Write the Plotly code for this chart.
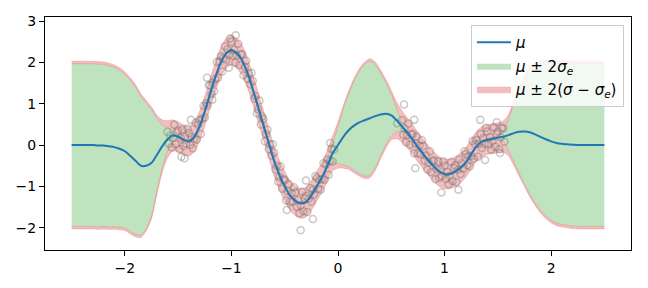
import numpy as np
import plotly.graph_objects as go

# grid of x positions (step 0.05 from -2.5 to 2.5)
x_grid = np.round(np.linspace(-2.5, 2.5, 101), 3)

# predictive mean
mu = [0.00, 0.00, 0.00, 0.00, 0.00, -0.01, -0.01, -0.03, -0.05, -0.09,
      -0.15, -0.26, -0.38, -0.50, -0.50, -0.43, -0.24, -0.03, 0.14, 0.23,
      0.20, 0.13, 0.09, 0.20, 0.45, 0.82, 1.25, 1.65, 2.00, 2.22,
      2.30, 2.22, 2.05, 1.75, 1.35, 0.92, 0.48, 0.05, -0.38, -0.72,
      -1.00, -1.22, -1.35, -1.41, -1.38, -1.22, -1.00, -0.78, -0.50, -0.20,
      0.00, 0.20, 0.36, 0.47, 0.55, 0.60, 0.65, 0.70, 0.74, 0.76,
      0.72, 0.60, 0.45, 0.30, 0.13, -0.05, -0.22, -0.38, -0.52, -0.64,
      -0.70, -0.70, -0.64, -0.55, -0.42, -0.22, -0.03, 0.08, 0.13, 0.15,
      0.18, 0.20, 0.24, 0.29, 0.32, 0.33, 0.31, 0.26, 0.20, 0.14,
      0.09, 0.05, 0.03, 0.02, 0.01, 0.00, 0.00, 0.00, 0.00, 0.00,
      0.00]

# 2*sigma_e (epistemic half-width)
two_sigma_e = [1.97, 1.97, 1.97, 1.97, 1.97, 1.97, 1.96, 1.95, 1.93, 1.90,
               1.86, 1.83, 1.78, 1.68, 1.52, 1.28, 0.88, 0.52, 0.28, 0.12,
               0.05, 0.03, 0.03, 0.03, 0.03, 0.03, 0.03, 0.03, 0.03, 0.03,
               0.03, 0.03, 0.03, 0.03, 0.03, 0.03, 0.03, 0.03, 0.03, 0.03,
               0.03, 0.03, 0.03, 0.03, 0.03, 0.03, 0.03, 0.03, 0.08, 0.22,
               0.45, 0.68, 0.88, 1.08, 1.24, 1.35, 1.38, 1.25, 1.00, 0.75,
               0.50, 0.28, 0.12, 0.05, 0.03, 0.03, 0.03, 0.03, 0.03, 0.03,
               0.03, 0.03, 0.03, 0.03, 0.03, 0.03, 0.03, 0.03, 0.03, 0.03,
               0.03, 0.10, 0.37, 0.70, 1.00, 1.27, 1.50, 1.66, 1.78, 1.86,
               1.91, 1.94, 1.95, 1.96, 1.97, 1.97, 1.97, 1.97, 1.97, 1.97,
               1.97]

# 2*sigma (total half-width)
two_sigma = [2.03, 2.03, 2.03, 2.03, 2.03, 2.03, 2.02, 2.01, 1.99, 1.96,
             1.92, 1.89, 1.84, 1.74, 1.58, 1.35, 0.96, 0.64, 0.45, 0.38,
             0.36, 0.36, 0.36, 0.36, 0.36, 0.36, 0.36, 0.36, 0.36, 0.36,
             0.36, 0.36, 0.36, 0.36, 0.36, 0.36, 0.36, 0.36, 0.36, 0.36,
             0.36, 0.36, 0.36, 0.36, 0.36, 0.36, 0.36, 0.36, 0.38, 0.42,
             0.56, 0.76, 0.95, 1.14, 1.30, 1.41, 1.44, 1.31, 1.07, 0.83,
             0.60, 0.44, 0.38, 0.36, 0.36, 0.36, 0.36, 0.36, 0.36, 0.36,
             0.36, 0.36, 0.36, 0.36, 0.36, 0.36, 0.36, 0.36, 0.36, 0.36,
             0.36, 0.38, 0.50, 0.78, 1.07, 1.33, 1.56, 1.72, 1.84, 1.92,
             1.97, 2.00, 2.01, 2.02, 2.03, 2.03, 2.03, 2.03, 2.03, 2.03,
             2.03]

px = [-1.600, -1.587, -1.575, -1.562, -1.550, -1.537, -1.525, -1.512,
      -1.500, -1.487, -1.475, -1.462, -1.450, -1.437, -1.425, -1.412,
      -1.400, -1.387, -1.375, -1.362, -1.350, -1.337, -1.325, -1.312,
      -1.300, -1.287, -1.275, -1.262, -1.250, -1.237, -1.225, -1.212,
      -1.200, -1.187, -1.175, -1.162, -1.150, -1.137, -1.125, -1.112,
      -1.100, -1.087, -1.075, -1.062, -1.050, -1.037, -1.025, -1.012,
      -1.000, -0.987, -0.975, -0.962, -0.950, -0.937, -0.925, -0.912,
      -0.900, -0.887, -0.875, -0.862, -0.850, -0.837, -0.825, -0.812,
      -0.800, -0.787, -0.775, -0.762, -0.750, -0.737, -0.725, -0.712,
      -0.700, -0.687, -0.675, -0.662, -0.650, -0.637, -0.625, -0.612,
      -0.600, -0.587, -0.575, -0.562, -0.550, -0.537, -0.525, -0.512,
      -0.500, -0.487, -0.475, -0.462, -0.450, -0.437, -0.425, -0.412,
      -0.400, -0.387, -0.375, -0.362, -0.350, -0.337, -0.325, -0.312,
      -0.300, -0.287, -0.275, -0.262, -0.250, -0.237, -0.225, -0.212,
      -0.200, -0.187, -0.175, -0.162, -0.150, -0.137, -0.125, -0.112,
      -0.100, -0.087, -0.075, -0.062, -0.050, -0.037,
      0.600, 0.613, 0.625, 0.638, 0.650, 0.663, 0.675, 0.688,
      0.700, 0.713, 0.725, 0.738, 0.750, 0.763, 0.775, 0.788,
      0.800, 0.813, 0.825, 0.838, 0.850, 0.863, 0.875, 0.888,
      0.900, 0.913, 0.925, 0.938, 0.950, 0.963, 0.975, 0.988,
      1.000, 1.013, 1.025, 1.038, 1.050, 1.063, 1.075, 1.088,
      1.100, 1.113, 1.125, 1.138, 1.150, 1.163, 1.175, 1.188,
      1.200, 1.213, 1.225, 1.238, 1.250, 1.263, 1.275, 1.288,
      1.300, 1.313, 1.325, 1.338, 1.350, 1.363, 1.375, 1.388,
      1.400, 1.413, 1.425, 1.438, 1.450, 1.463, 1.475, 1.488,
      1.500, 1.513, 1.525, 1.538, 1.550, 1.562,
      -1.38, -1.44, -1.47, -1.18, -1.23, -1.025, -0.96, -0.30, -0.35,
      -0.235, -0.48, -0.074, 0.62, 0.715, 0.555, 0.725, 0.97, 1.13,
      1.335, 1.38, 1.49, 1.52]
py = [0.32, 0.03, 0.23, -0.05, 0.18, 0.49, 0.02, 0.31,
      0.35, -0.10, 0.17, 0.37, -0.02, 0.20, 0.03, 0.40,
      0.29, 0.00, 0.20, -0.08, 0.15, 0.54, 0.13, 0.49,
      0.60, 0.27, 0.64, 0.95, 0.67, 1.01, 0.96, 1.45,
      1.45, 1.23, 1.50, 1.30, 1.60, 2.01, 1.63, 2.02,
      2.15, 1.78, 2.11, 2.39, 2.07, 2.32, 2.18, 2.58,
      2.50, 2.16, 2.31, 1.99, 2.17, 2.45, 1.94, 2.19,
      2.20, 1.69, 1.90, 2.04, 1.60, 1.73, 1.47, 1.75,
      1.55, 1.12, 1.19, 0.77, 0.87, 1.08, 0.50, 0.69,
      0.63, 0.09, 0.27, 0.37, -0.10, 0.02, -0.25, 0.02,
      -0.18, -0.59, -0.50, -0.89, -0.77, -0.52, -1.06, -0.83,
      -0.85, -1.34, -1.11, -0.95, -1.37, -1.17, -1.37, -1.02,
      -1.15, -1.49, -1.33, -1.65, -1.46, -1.13, -1.60, -1.29,
      -1.23, -1.62, -1.30, -1.04, -1.37, -1.08, -1.19, -0.75,
      -0.80, -1.06, -0.84, -1.08, -0.83, -0.44, -0.84, -0.47,
      -0.35, -0.72, -0.38, -0.09, -0.40, -0.11,
      0.60, 0.25, 0.40, 0.07, 0.24, 0.52, 0.01, 0.26,
      0.27, -0.20, 0.04, 0.21, -0.20, -0.01, -0.22, 0.12,
      -0.02, -0.38, -0.25, -0.59, -0.43, -0.15, -0.65, -0.39,
      -0.37, -0.83, -0.58, -0.39, -0.79, -0.58, -0.75, -0.39,
      -0.50, -0.82, -0.65, -0.95, -0.75, -0.41, -0.87, -0.55,
      -0.49, -0.90, -0.60, -0.35, -0.70, -0.44, -0.57, -0.15,
      -0.22, -0.49, -0.27, -0.52, -0.27, 0.10, -0.33, 0.02,
      0.12, -0.28, 0.03, 0.27, -0.07, 0.17, 0.03, 0.42,
      0.33, 0.02, 0.19, -0.11, 0.10, 0.43, -0.04, 0.27,
      0.33, -0.10, 0.19, 0.42, 0.40, 0.08,
      0.61, -0.32, -0.28, 1.10, 1.63, 1.87, 2.66, -0.86, -2.06,
      -1.79, -1.57, 0.05, 0.98, 0.61, 0.53, -0.56, -1.15, -1.08,
      0.61, -0.36, 0.55, -0.19]

x_ticks = [-2, -1, 0, 1, 2]
y_ticks = [-2, -1, 0, 1, 2, 3]

mu_a = np.array(mu)
se = np.array(two_sigma_e)
st = np.array(two_sigma)

GREEN = "rgba(44,160,44,0.3)"
PINK = "rgba(214,39,40,0.3)"
PINK_EDGE = "rgba(214,39,40,0.25)"
PT = "rgba(110,110,110,0.38)"

fig = go.Figure()

line_common = dict(shape="spline", smoothing=0.8)

# green band
fig.add_trace(go.Scatter(x=x_grid, y=mu_a - se, mode="lines", showlegend=False,
                         legendgroup="g", line=dict(width=0, color=GREEN, **line_common)))
fig.add_trace(go.Scatter(x=x_grid, y=mu_a + se, mode="lines", fill="tonexty",
                         fillcolor=GREEN, legendgroup="g", legendrank=2,
                         name="<i>μ</i> ± 2<i>σ</i><sub><i>e</i></sub>",
                         line=dict(width=0, color=GREEN, **line_common)))
# pink upper band
fig.add_trace(go.Scatter(x=x_grid, y=mu_a + se, mode="lines", showlegend=False,
                         legendgroup="p",
                         line=dict(width=0.8, color=PINK_EDGE, **line_common)))
fig.add_trace(go.Scatter(x=x_grid, y=mu_a + st, mode="lines", fill="tonexty",
                         fillcolor=PINK, legendgroup="p", legendrank=3,
                         name="<i>μ</i> ± 2(<i>σ</i> − <i>σ</i><sub><i>e</i></sub>)",
                         line=dict(width=0.8, color=PINK_EDGE, **line_common)))
# pink lower band
fig.add_trace(go.Scatter(x=x_grid, y=mu_a - st, mode="lines", showlegend=False,
                         legendgroup="p",
                         line=dict(width=0.8, color=PINK_EDGE, **line_common)))
fig.add_trace(go.Scatter(x=x_grid, y=mu_a - se, mode="lines", fill="tonexty",
                         fillcolor=PINK, showlegend=False, legendgroup="p",
                         line=dict(width=0.8, color=PINK_EDGE, **line_common)))

# data points
fig.add_trace(go.Scatter(x=px, y=py, mode="markers", showlegend=False,
                         marker=dict(symbol="circle-open", size=7,
                                     line=dict(width=1.5, color=PT), color=PT)))

# mean
fig.add_trace(go.Scatter(x=x_grid, y=mu_a, mode="lines", name="<i>μ</i>", legendrank=1,
                         legendgroup="m",
                         line=dict(width=2, color="#1f77b4", **line_common)))

axis_common = dict(showline=True, mirror=True, linecolor="black", linewidth=1,
                   ticks="outside", ticklen=5, tickwidth=1, tickcolor="black",
                   showgrid=False, zeroline=False,
                   tickfont=dict(family="DejaVu Sans", size=14, color="black"))

fig.update_layout(
    width=648, height=288,
    margin=dict(l=45, r=17, t=17, b=38),
    paper_bgcolor="white", plot_bgcolor="white",
    font=dict(family="DejaVu Sans", size=14, color="black"),
    xaxis=dict(range=[-2.75, 2.75], tickvals=x_ticks, **axis_common),
    yaxis=dict(range=[-2.54, 3.1], tickvals=y_ticks, **axis_common),
    legend=dict(x=0.988, y=0.966, xanchor="right", yanchor="top",
                bgcolor="rgba(255,255,255,0.8)", bordercolor="#cccccc",
                borderwidth=1, font=dict(family="DejaVu Sans", size=15),
                traceorder="grouped", tracegroupgap=1, itemwidth=34),
)

fig.write_html("out.html")
